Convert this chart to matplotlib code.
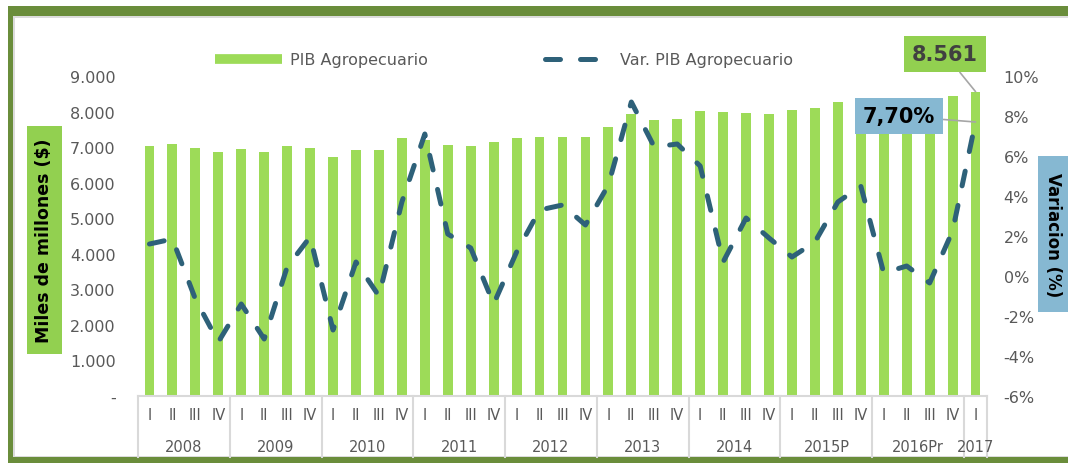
import matplotlib
matplotlib.use("Agg")
import matplotlib.pyplot as plt
from matplotlib.lines import Line2D
from matplotlib.patches import Rectangle
from matplotlib.ticker import FuncFormatter

# Data
years = ['2008', '2009', '2010', '2011', '2012', '2013', '2014', '2015P', '2016Pr', '2017']
quarters = ['I', 'II', 'III', 'IV'] * 9 + ['I']
pib = [7040, 7090, 6980, 6850, 6940, 6850, 7020, 6980,
       6710, 6925, 6925, 7260, 7190, 7060, 7020, 7130,
       7265, 7290, 7290, 7290, 7575, 7930, 7760, 7780,
       8005, 7980, 7960, 7930, 8045, 8090, 8260, 8330,
       8300, 8320, 8380, 8430, 8561]
var = [1.6, 1.85, -1.15, -3.3, -1.4, -3.15, 0.45, 1.95,
       -2.7, 0.7, -1.0, 3.7, 7.1, 2.1, 1.4, -1.4,
       1.2, 3.3, 3.55, 2.55, 4.55, 8.7, 6.45, 6.6,
       5.5, 0.7, 2.9, 1.9, 0.95, 1.7, 3.7, 4.5,
       0.15, 0.5, -0.35, 2.25, 7.70]

green = '#9ddb58'
box_green = '#92d050'
blue_line = '#2e6179'
box_blue = '#86b8d2'
gray_txt = '#595959'
sep = '#d9d9d9'

plt.rcParams['font.family'] = ['DejaVu Sans']

W, H = 1068, 464
fig = plt.figure(figsize=(W / 100, H / 100), dpi=100)


def fx(x):
    return x / W


def fy(y):
    return 1 - y / H


# frame (behind everything)
fig.patches.append(Rectangle((fx(8), fy(464)), fx(1060), fy(7) - fy(464),
                             transform=fig.transFigure, fc='#6a8d3b', ec='none', zorder=-3))
fig.patches.append(Rectangle((fx(13), fy(458)), fx(1055), fy(17) - fy(458),
                             transform=fig.transFigure, fc='#dcdcdc', ec='none', zorder=-2))
fig.patches.append(Rectangle((fx(15), fy(457)), fx(1053), fy(19) - fy(457),
                             transform=fig.transFigure, fc='white', ec='none', zorder=-1))

ax = fig.add_axes([fx(138), fy(397), fx(987 - 138), fy(77) - fy(397)])
ax.patch.set_alpha(0)
x = list(range(len(pib)))
ax.bar(x, pib, width=0.43, color=green, zorder=2)
ax.set_xlim(-0.5, len(pib) - 0.5)
ax.set_ylim(0, 9000)
ax.set_yticks(range(0, 9001, 1000))
ax.yaxis.set_major_formatter(FuncFormatter(
    lambda v, p: '-' if v == 0 else f'{int(v):,}'.replace(',', '.')))
ax.set_xticks([])
for s in ['top', 'right', 'left']:
    ax.spines[s].set_visible(False)
ax.spines['bottom'].set_color(sep)
ax.spines['bottom'].set_linewidth(1.5)
ax.tick_params(axis='y', length=0, pad=16, labelsize=11.5, labelcolor=gray_txt)

ax2 = ax.twinx()
ax2.plot(x, var, color=blue_line, lw=3.6, dashes=(3, 4),
         dash_capstyle='round', solid_joinstyle='round', zorder=3)
ax2.set_ylim(-6, 10)
ax2.set_yticks(range(-6, 11, 2))
ax2.yaxis.set_major_formatter(FuncFormatter(lambda v, p: f'{int(v)}%'))
for s in ax2.spines.values():
    s.set_visible(False)
ax2.tick_params(axis='y', length=0, pad=12, labelsize=11.5, labelcolor=gray_txt)

# two-level category axis
tr = ax.get_xaxis_transform()
y_q = -(416 - 397) / 320
y_y = -(447 - 397) / 320
y_bot = -(458 - 397) / 320
for i, q in enumerate(quarters):
    ax.text(i, y_q, q, transform=tr, ha='center', va='center',
            fontsize=10.5, color=gray_txt)
starts = list(range(0, 37, 4)) + [37]
for k, yr in enumerate(years):
    a, b = starts[k], min(starts[k + 1], 37)
    ax.text((a + b - 1) / 2, y_y, yr, transform=tr, ha='center', va='center',
            fontsize=10.5, color=gray_txt)
for b in starts:
    ax.plot([b - 0.5, b - 0.5], [0, y_bot], transform=tr, color=sep,
            lw=1.5, clip_on=False)

# legend
handles = [Line2D([], [], color=green, lw=7, solid_capstyle='butt'),
           Line2D([], [], color=blue_line, lw=3.6, dashes=(3, 4), dash_capstyle='round')]
fig.legend(handles, ['PIB Agropecuario', 'Var. PIB Agropecuario'], ncol=2,
           loc='center', bbox_to_anchor=(fx(504), fy(61)), frameon=False,
           handlelength=4.2, columnspacing=7.3, handletextpad=0.5,
           prop={'size': 11.5}, labelcolor=gray_txt)

# axis title boxes
fig.patches.append(Rectangle((fx(27), fy(355)), fx(35), fy(127) - fy(355),
                             transform=fig.transFigure, fc=box_green, ec='none'))
fig.text(fx(44.5), fy(241), 'Miles de millones ($)', rotation=90, ha='center',
         va='center', fontsize=12.5, fontweight='bold', color='black')
fig.patches.append(Rectangle((fx(1038), fy(313)), fx(30), fy(157) - fy(313),
                             transform=fig.transFigure, fc=box_blue, ec='none'))
fig.text(fx(1053), fy(235), 'Variacion (%)', rotation=-90, ha='center',
         va='center', fontsize=12, fontweight='bold', color='black')

# data callouts
ax.annotate(f'{pib[-1]:,}'.replace(',', '.'), xy=(x[-1], pib[-1]),
            xytext=(fx(945), fy(55)), textcoords='figure fraction',
            ha='center', va='center', fontsize=15, fontweight='bold', color='#404040',
            bbox=dict(boxstyle='square,pad=0.4', fc=box_green, ec='none'),
            arrowprops=dict(arrowstyle='-', color='#a6a6a6', lw=1.2,
                            shrinkA=0, shrinkB=0), zorder=5)
ax2.annotate(f'{var[-1]:.2f}%'.replace('.', ','), xy=(x[-1], var[-1]),
             xytext=(fx(899), fy(117)), textcoords='figure fraction',
             ha='center', va='center', fontsize=15, fontweight='bold', color='black',
             bbox=dict(boxstyle='square,pad=0.4', fc=box_blue, ec='none'),
             arrowprops=dict(arrowstyle='-', color='#a6a6a6', lw=1.2,
                             shrinkA=0, shrinkB=0), zorder=5)

fig.savefig('out.png', dpi=100)
